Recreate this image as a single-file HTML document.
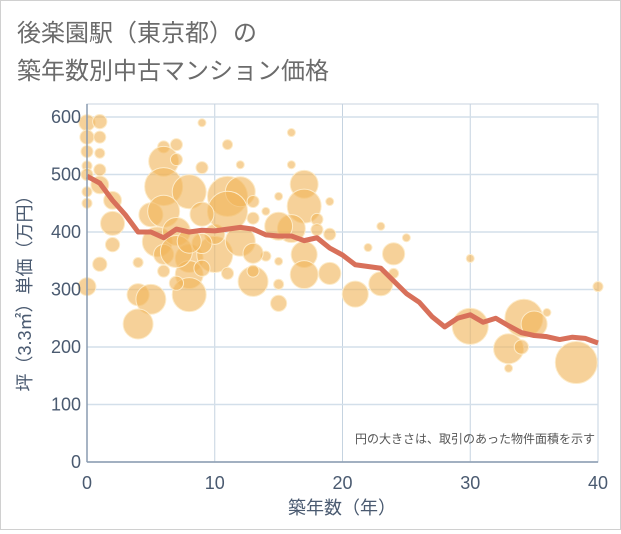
<!DOCTYPE html>
<html><head><meta charset="utf-8">
<style>
html,body{margin:0;padding:0;background:#fff;}
body{width:621px;height:530px;overflow:hidden;}
#wrap{position:relative;width:619px;height:528px;border:1px solid #d0d0d0;}
.t{font-family:"Liberation Sans","Noto Sans CJK JP",sans-serif;}
</style></head>
<body>
<div id="wrap">
<svg id="chart" width="619" height="528" xmlns="http://www.w3.org/2000/svg">
  <text class="t" x="16" y="40" font-size="24" fill="#6b6b6b">後楽園駅（東京都）の</text>
  <text class="t" x="16" y="78" font-size="24" fill="#6b6b6b">築年数別中古マンション価格</text>
  <g id="grid"></g>
  <g id="bubbles"></g>
  <g id="trend"></g>
  <g id="axes"></g>
  <text class="t" x="594" y="442" font-size="12" fill="#555" text-anchor="end">円の大きさは、取引のあった物件面積を示す</text>
  <text class="t" x="341" y="513" font-size="18" fill="#4a5a70" text-anchor="middle">築年数（年）</text>
  <text class="t" transform="translate(30,288) rotate(-90)" font-size="18" fill="#4a5a70" text-anchor="middle">坪（3.3㎡）単価（万円）</text>
</svg>
</div>
<script>
const xTicks=[0,10,20,30,40];
const yTicks=[0,100,200,300,400,500,600];
const lineAges=[0,1,2,3,4,5,6,7,8,9,10,11,12,13,14,15,16,17,18,19,20,21,22,23,24,25,26,27,28,29,30,31,32,33,34,35,36,37,38,39,40];
const linePrices=[497,485,455,430,400,400,390,405,400,403,402,405,408,405,395,393,393,385,390,372,360,343,340,337,315,293,278,253,235,250,256,243,250,237,225,220,218,213,217,215,207];
const bubbleAges=[0,0,0,0,0,0,0,0,1,1,1,1,1,1,2,2,2,4,5,4,4,6,7,6,6,8,9,9,7,5,6,5.5,6,6,7,8,8,8,7,10,10,11,12,11,12,13,13,13,13,11,11,12,16,16,17,17,16,18,19,19,18,17,19,17,15,15,15,14,14,15,15,13,9,9,7,8,9,21,24,23,22,25,24,23,30,30,34.2,35,36,33,34,33,38.3,40];
const bubblePrices=[590,565,540,515,500,470,450,305,592,565,537,508,482,344,455,415,378,291,283,240,347,548,552,523,479,470,590,512,526,430,436,383,361,332,401,354,326,291,366,361,396,462,470,436,384,453,424,314,332,328,552,517,573,517,483,445,406,422,453,396,404,361,328,326,349,309,276,436,358,462,410,363,431,380,311,384,337,292,362,410,373,390,328,310,354,236,250,240,260,197,200,163,173,305];
const bubbleAreas=[18,14,10,7,10,7,7,22,14,10,7,10,22,14,22,40,14,34,62,62,7,10,10,62,100,80,4.4,10,10,40,71,62,28,10,54,54,54,80,71,90,28,111,62,111,62,10,10,62,10,10,7,4.4,4.4,4.4,54,80,54,10,4.4,10,10,47,34,54,4.4,7,18,4.4,7,4.4,54,28,40,28,14,40,18,47,34,4.4,4.4,4.4,7,40,4.4,90,100,47,4.4,62,14,4.4,122,7];

const X0=86,X1=597,Y0=461,Y1=116;
function xs(v){return X0+(v-0)/(40-0)*(X1-X0);}
function ys(v){return Y0-(v-0)/(600-0)*(Y0-Y1);}
const NS="http://www.w3.org/2000/svg";
function mk(tag,attrs,parent){const e=document.createElementNS(NS,tag);for(const k in attrs)e.setAttribute(k,attrs[k]);parent.appendChild(e);return e;}

const grid=document.getElementById('grid');
mk('rect',{x:X0,y:103,width:X1-X0,height:Y0-103,fill:'#fff',stroke:'#c8d3df','stroke-width':1},grid);
xTicks.forEach(t=>{
  const l=mk('line',{x1:xs(t),x2:xs(t),y1:103,y2:Y0,stroke:'#c5d3e0','stroke-width':1},grid);
  
  
});
yTicks.forEach(t=>{
  const l=mk('line',{x1:X0,x2:X1,y1:ys(t),y2:ys(t),stroke:'#d3dfea','stroke-width':1.5},grid);
  
  
});

const bg=document.getElementById('bubbles');
bubbleAges.forEach((a,i)=>{
  const c=mk('circle',{cx:xs(a),cy:ys(bubblePrices[i]),r:Math.sqrt(bubbleAreas[i])*1.9,fill:'#f0b45a','fill-opacity':0.62,stroke:'#fdebc8','stroke-width':1},bg);
  
  
});

const tg=document.getElementById('trend');
const p=mk('polyline',{points:lineAges.map((a,i)=>xs(a)+','+ys(linePrices[i])).join(' '),fill:'none',stroke:'#d8705a','stroke-width':5,'stroke-linejoin':'round'},tg);



const ax=document.getElementById('axes');
const xl=mk('line',{x1:X0,x2:X1,y1:Y0,y2:Y0,stroke:'#8a9bb0','stroke-width':1.5},ax);


const yl=mk('line',{x1:X0,x2:X0,y1:103,y2:Y0,stroke:'#8a9bb0','stroke-width':1.5},ax);


xTicks.forEach(t=>{
  const tx=mk('text',{x:xs(t),y:488,'font-size':18,fill:'#4a5a70','text-anchor':'middle',class:'t'},ax);
  tx.textContent=t;
  
  
});
yTicks.forEach(t=>{
  const tx=mk('text',{x:X0-6,y:ys(t)+6,'font-size':18,fill:'#4a5a70','text-anchor':'end',class:'t'},ax);
  tx.textContent=t;
  
  
});
</script>
</body></html>
